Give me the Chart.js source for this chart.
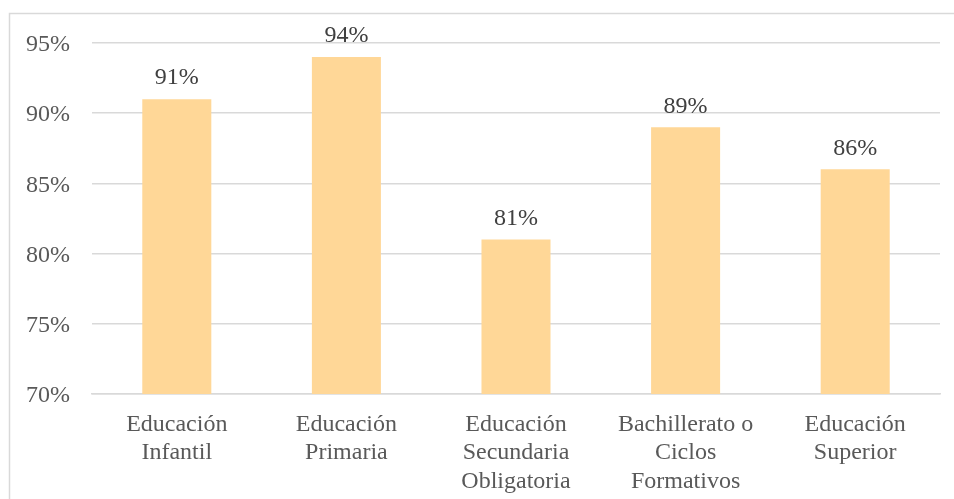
<!DOCTYPE html>
<html>
<head>
<meta charset="utf-8">
<script src="https://cdn.jsdelivr.net/npm/chart.js@4.4.1/dist/chart.umd.min.js"></script>
<style>
  html, body { margin: 0; padding: 0; background: #fff; }
  #wrap { width: 954px; height: 499px; }
</style>
</head>
<body>
<div id="wrap"><canvas id="nivelChart" width="954" height="499"></canvas></div>
<script>
// Categories (multi-line labels) and percentage values
const categorias = [
  ['Educación', 'Infantil'],
  ['Educación', 'Primaria'],
  ['Educación', 'Secundaria', 'Obligatoria'],
  ['Bachillerato o', 'Ciclos', 'Formativos'],
  ['Educación', 'Superior']
];
const porcentajes = [91, 94, 81, 89, 86];
const ejeMin = 70;
const ejeMax = 95;
const ejePaso = 5;

const serif = "'Liberation Serif', 'Times New Roman', serif";

// Outer frame around the chart
const marco = {
  id: 'marco',
  beforeDraw(chart) {
    const c = chart.ctx;
    c.save();
    c.fillStyle = '#fff';
    c.fillRect(0, 0, chart.width, chart.height);
    c.strokeStyle = '#d9d9d9';
    c.lineWidth = 1.5;
    c.strokeRect(9.5, 13.5, 1200, 1200);
    c.restore();
  }
};

// Value labels above each bar
const etiquetas = {
  id: 'etiquetas',
  afterDatasetsDraw(chart) {
    const c = chart.ctx;
    const meta = chart.getDatasetMeta(0);
    c.save();
    c.font = '24px ' + serif;
    c.fillStyle = '#404040';
    c.textAlign = 'center';
    c.textBaseline = 'bottom';
    meta.data.forEach((bar, i) => {
      c.fillText(porcentajes[i] + '%', bar.x, bar.y - 9);
    });
    c.restore();
  }
};

const ctx = document.getElementById('nivelChart').getContext('2d');
new Chart(ctx, {
  type: 'bar',
  data: {
    labels: categorias,
    datasets: [{
      data: porcentajes,
      backgroundColor: '#FFD797',
      borderWidth: 0,
      barPercentage: 0.407,
      categoryPercentage: 1
    }]
  },
  options: {
    responsive: false,
    animation: false,
    layout: { padding: { top: 43, right: 14, left: 0, bottom: 0 } },
    plugins: {
      legend: { display: false },
      tooltip: { enabled: false }
    },
    scales: {
      x: {
        grid: { display: false, drawTicks: false },
        border: { display: true, color: '#d9d9d9', width: 1.5 },
        ticks: {
          color: '#595959',
          font: { family: serif, size: 24, lineHeight: 1.19 },
          padding: 16,
          maxRotation: 0,
          autoSkip: false
        },
        afterFit(s) { s.height = 105; }
      },
      y: {
        min: ejeMin,
        max: ejeMax,
        grid: { color: '#d9d9d9', lineWidth: 1.5, drawTicks: false },
        border: { display: false },
        ticks: {
          stepSize: ejePaso,
          color: '#595959',
          font: { family: serif, size: 24 },
          padding: 22,
          labelOffset: 2,
          callback: v => v + '%'
        },
        afterFit(s) { s.width = 92; }
      }
    }
  },
  plugins: [marco, etiquetas]
});
</script>
</body>
</html>
